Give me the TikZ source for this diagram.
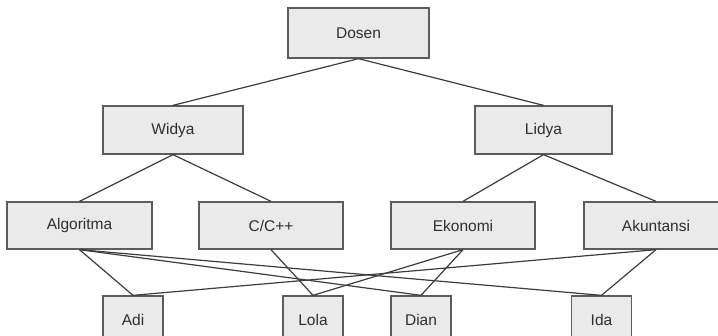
\documentclass[tikz,border=0pt]{standalone}
\usepackage{fontspec}
\setmainfont{Liberation Sans}
\definecolor{boxfill}{HTML}{EAEAEA}
\definecolor{boxline}{HTML}{5C5C5C}
\definecolor{wire}{HTML}{3C3C3C}
\definecolor{label}{HTML}{2E2E2E}
\begin{document}
\begin{tikzpicture}[x=1pt,y=-1pt,
  box/.style={draw=boxline,fill=boxfill,line width=1.3pt,inner sep=0pt,text=label,
    minimum width=144pt,minimum height=47pt,font=\fontsize{15.5}{18}\selectfont},
  leaf/.style={box,minimum width=60pt,minimum height=48pt}]
\useasboundingbox (0,0) rectangle (718,336);
\clip (0,0) rectangle (718,336);
\node[box,minimum width=141pt,minimum height=50pt] (dosen) at (358.5,33) {Dosen};
\node[box,minimum width=140pt,minimum height=48pt] (widya) at (173,130) {Widya};
\node[box,minimum width=137pt,minimum height=48pt] (lidya) at (543.5,130) {Lidya};
\node[box,minimum width=145pt] (algoritma) at (79.5,225.5) {Algoritma};
\node[box] (cpp) at (271,225.5) {C/C++};
\node[box] (ekonomi) at (463,225.5) {Ekonomi};
\node[box] (akuntansi) at (656,225.5) {Akuntansi};
\node[leaf] (adi) at (133,320) {Adi};
\node[leaf] (lola) at (313,320) {Lola};
\node[leaf] (dian) at (421,320) {Dian};
\node[leaf] (ida) at (601.5,320) {Ida};
\draw[wire,line width=1.2pt] (dosen.south) -- (widya.north);
\draw[wire,line width=1.2pt] (dosen.south) -- (lidya.north);
\draw[wire,line width=1.2pt] (widya.south) -- (algoritma.north);
\draw[wire,line width=1.2pt] (widya.south) -- (cpp.north);
\draw[wire,line width=1.2pt] (lidya.south) -- (ekonomi.north);
\draw[wire,line width=1.2pt] (lidya.south) -- (akuntansi.north);
\draw[wire,line width=1.2pt] (algoritma.south) -- (adi.north);
\draw[wire,line width=1.2pt] (algoritma.south) -- (dian.north);
\draw[wire,line width=1.2pt] (algoritma.south) -- (ida.north);
\draw[wire,line width=1.2pt] (cpp.south) -- (lola.north);
\draw[wire,line width=1.2pt] (ekonomi.south) -- (lola.north);
\draw[wire,line width=1.2pt] (ekonomi.south) -- (dian.north);
\draw[wire,line width=1.2pt] (akuntansi.south) -- (adi.north);
\draw[wire,line width=1.2pt] (akuntansi.south) -- (ida.north);
\end{tikzpicture}
\end{document}
